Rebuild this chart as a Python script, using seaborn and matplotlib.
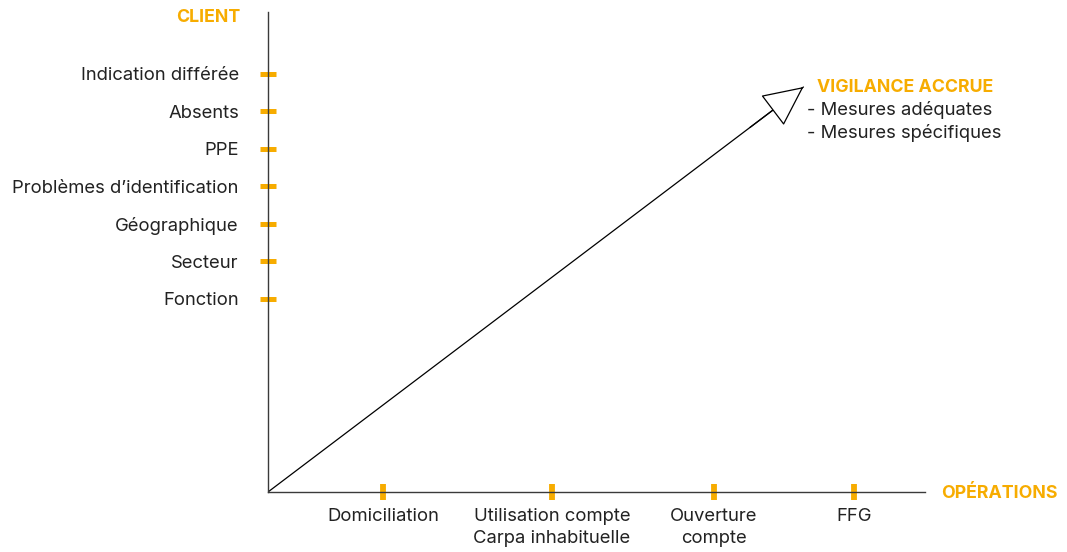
import matplotlib
matplotlib.use("Agg")
import matplotlib.pyplot as plt
import seaborn as sns
import pandas as pd

# ---- data ----
client_labels = ["Indication différée", "Absents", "PPE", "Problèmes d\u2019identification",
                 "Géographique", "Secteur", "Fonction"]
client_pos = [11.15, 10.15, 9.15, 8.15, 7.15, 6.15, 5.15]
ops_labels = ["Domiciliation", "Utilisation compte\nCarpa inhabituelle", "Ouverture\ncompte", "FFG"]
ops_pos = [0.175, 0.432, 0.679, 0.892]
arrow_x = [0.0, 0.815]
arrow_y = [0.0, 10.8]
vigilance_title = "VIGILANCE ACCRUE"
vigilance_items = ["- Mesures adéquates", "- Mesures spécifiques"]
y_title = "CLIENT"
x_title = "OPÉRATIONS"

ORANGE = "#F7AC00"
DARK = "#222222"
AXC = "#3a3a3a"

sns.set_theme(style="white")
FONT = ["Inter", "DejaVu Sans"]
plt.rcParams["font.family"] = FONT

W, H = 1067, 552
fig = plt.figure(figsize=(W / 100, H / 100), dpi=100)
ax = fig.add_axes([268 / W, 60 / H, 657 / W, 480 / H])
ax.set_xlim(0, 1)
ax.set_ylim(0, 12.8)

for s in ["top", "right"]:
    ax.spines[s].set_visible(False)
for s in ["left", "bottom"]:
    ax.spines[s].set_color(AXC)
    ax.spines[s].set_linewidth(1.0)

ax.set_yticks(client_pos)
ax.set_yticklabels(client_labels)
ax.set_xticks(ops_pos)
ax.set_xticklabels(ops_labels, linespacing=1.4)

ax.tick_params(axis="y", direction="inout", length=11, width=3.6, color=ORANGE,
               pad=15.5, labelsize=13.3, labelcolor=DARK, left=True)
ax.tick_params(axis="x", direction="inout", length=11, width=4.2, color=ORANGE,
               pad=6.0, labelsize=13.3, labelcolor=DARK, bottom=True)

# arrow shaft via seaborn
df = pd.DataFrame({"x": arrow_x, "y": arrow_y})
sns.lineplot(data=df, x="x", y="y", ax=ax, color="black", linewidth=0.9, sort=False)
ax.set_xlabel("")
ax.set_ylabel("")

# arrow head (open triangle), started on the shaft
f = 0.9
ax.annotate("", xy=(arrow_x[1], arrow_y[1]),
            xytext=(arrow_x[1] * f, arrow_y[1] * f),
            arrowprops=dict(arrowstyle="-|>,head_length=2.2,head_width=1.05",
                            fc="white", ec="black", lw=0.9, shrinkA=0, shrinkB=0),
            annotation_clip=False)

# titles
fig.text(240 / W, 1 - 18 / H, y_title, ha="right", va="center", color=ORANGE,
         fontsize=12.8, fontweight="bold", family=FONT)
fig.text(941 / W, 1 - 493 / H, x_title, ha="left", va="center", color=ORANGE,
         fontsize=12.8, fontweight="bold", family=FONT)
fig.text(817 / W, 1 - 88 / H, vigilance_title, ha="left", va="center", color=ORANGE,
         fontsize=12.8, fontweight="bold", family=FONT)
for i, item in enumerate(vigilance_items):
    fig.text(807 / W, 1 - (110 + 23 * i) / H, item, ha="left", va="center",
             color=DARK, fontsize=13.3, family=FONT)

fig.savefig("out.png", dpi=100, facecolor="white")
